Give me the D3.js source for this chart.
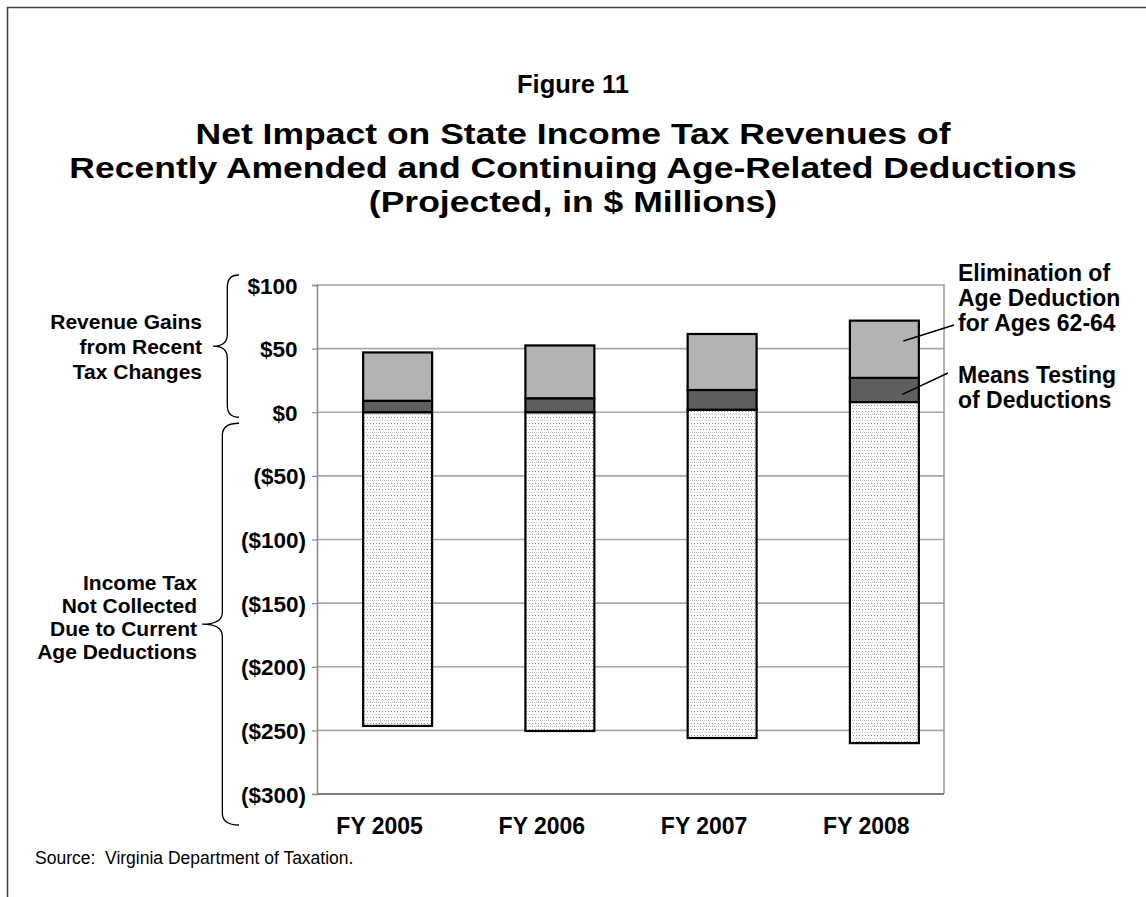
<!DOCTYPE html>
<html>
<head>
<meta charset="utf-8">
<script src="https://cdn.jsdelivr.net/npm/d3@7"></script>
<style>
  html, body { margin: 0; padding: 0; background: #fff; }
  svg text { font-family: "Liberation Sans", Arial, Helvetica, sans-serif; fill: #000; }
</style>
</head>
<body>
<svg id="chart" width="1146" height="897"></svg>
<script>
// Fiscal years shown on the category axis
const years = ["FY 2005", "FY 2006", "FY 2007", "FY 2008"];
// Income tax not collected due to current age deductions: lower and upper ends of the segment ($ millions)
const deductionLow  = [-246.5, -250.5, -256, -260];
const deductionHigh = [0, 0, 2, 8];
// Revenue gains from means testing of deductions ($ millions)
const meansTesting  = [9, 11, 15.5, 19];
// Revenue gains from elimination of age deduction for ages 62-64 ($ millions)
const ageElimination = [38, 41.5, 44, 45];
// Value axis ticks and their labels
const tickValues = [100, 50, 0, -50, -100, -150, -200, -250, -300];
const tickLabels = ["$100", "$50", "$0", "($50)", "($100)", "($150)", "($200)", "($250)", "($300)"];

const svg = d3.select("#chart");
const font = '"Liberation Sans", Arial, Helvetica, sans-serif';

// dotted fill for the deduction segments
const defs = svg.append("defs");
const pat = defs.append("pattern").attr("id", "dots")
  .attr("patternUnits", "userSpaceOnUse").attr("width", 6).attr("height", 6);
pat.append("rect").attr("width", 6).attr("height", 6).attr("fill", "#ffffff");
[[0,0],[2,0],[4,0]].forEach(([x,y]) => pat.append("rect").attr("x", x).attr("y", y).attr("width", 1).attr("height", 1).attr("fill", "#c4c4c4"));
[[1,3],[4,3]].forEach(([x,y]) => pat.append("rect").attr("x", x).attr("y", y).attr("width", 1).attr("height", 1).attr("fill", "#8c8c8c"));

// outer frame (top and left edges)
svg.append("path").attr("d", "M7.5,897 L7.5,7.5 L1146,7.5")
  .attr("fill", "none").attr("stroke", "#444").attr("stroke-width", 1.6);

// titles
svg.append("text").attr("x", 573).attr("y", 93).attr("text-anchor", "middle")
  .attr("font-weight", "bold").attr("font-size", 25.5).text("Figure 11");
const titleLines = [
  "Net Impact on State Income Tax Revenues of",
  "Recently Amended and Continuing Age-Related Deductions",
  "(Projected, in $ Millions)"
];
// title set in a slightly widened bold face
svg.append("g").selectAll("text").data(titleLines).join("text")
  .attr("transform", (d, i) => `translate(573,${144 + i * 34}) scale(1.168,1)`)
  .attr("text-anchor", "middle").attr("font-weight", "bold").attr("font-size", 30.4)
  .text(d => d);

// plot area
const plot = { left: 317, right: 944, top: 285, bottom: 794 };
const y = d3.scaleLinear().domain([-300, 100]).range([plot.bottom, plot.top]);
const x = d3.scaleBand().domain(years).range([316.5, 965.5])
  .paddingInner(0.575).paddingOuter(0.2875);

// horizontal gridlines
svg.append("g").selectAll("line").data(tickValues.filter(v => v > -300 && v < 100)).join("line")
  .attr("x1", plot.left).attr("x2", plot.right)
  .attr("y1", d => y(d)).attr("y2", d => y(d))
  .attr("stroke", "#a8a8a8").attr("stroke-width", 1.6);

// plot frame
svg.append("path")
  .attr("d", `M${plot.left},${plot.top} L${plot.right},${plot.top} L${plot.right},${plot.bottom}`)
  .attr("fill", "none").attr("stroke", "#a0a0a0").attr("stroke-width", 1.6);

// value axis
const yAxis = d3.axisLeft(y).tickValues(tickValues).tickSize(5).tickPadding(6)
  .tickFormat((d, i) => tickLabels[i]);
const ya = svg.append("g").attr("transform", `translate(${plot.left},0)`).call(yAxis);
ya.select(".domain").attr("stroke", "#8a8a8a").attr("stroke-width", 1.6);
ya.selectAll(".tick line").attr("stroke", "#8a8a8a").attr("stroke-width", 1.2);
ya.selectAll(".tick text")
  .attr("font-family", font).attr("font-weight", "bold").attr("font-size", 22.5)
  .attr("dy", "0.36em")
  .attr("dx", d => d >= 0 ? -8.5 : 0);

// category axis baseline
svg.append("line").attr("x1", plot.left).attr("x2", plot.right)
  .attr("y1", y(-300)).attr("y2", y(-300))
  .attr("stroke", "#808080").attr("stroke-width", 2);

// category labels
svg.append("g").selectAll("text").data(years).join("text")
  .attr("x", d => x(d) + x.bandwidth() / 2 - 18)
  .attr("y", y(-300) + 40)
  .attr("text-anchor", "middle").attr("font-weight", "bold").attr("font-size", 23)
  .text(d => d);

// stacked segments
const segments = [];
years.forEach((yr, i) => {
  segments.push({ yr, lo: deductionLow[i], hi: deductionHigh[i], fill: "url(#dots)" });
  const mtBase = deductionHigh[i];
  segments.push({ yr, lo: mtBase, hi: mtBase + meansTesting[i], fill: "#5f5f5f" });
  const aeBase = mtBase + meansTesting[i];
  segments.push({ yr, lo: aeBase, hi: aeBase + ageElimination[i], fill: "#b3b3b3" });
});
svg.append("g").selectAll("rect").data(segments).join("rect")
  .attr("x", d => x(d.yr))
  .attr("width", x.bandwidth())
  .attr("y", d => y(d.hi))
  .attr("height", d => y(d.lo) - y(d.hi))
  .attr("fill", d => d.fill)
  .attr("stroke", "#000").attr("stroke-width", 2.2);

// series annotations on the right
const lastYr = years[years.length - 1];
const bx = x(lastYr) + x.bandwidth() / 2;
const rightNotes = [
  { lines: ["Elimination of", "Age Deduction", "for Ages 62-64"], y0: 281, from: [bx + 19, y(56)], to: [954, 325] },
  { lines: ["Means Testing", "of Deductions"], y0: 383, from: [bx + 18, y(14)], to: [948, 373] }
];
rightNotes.forEach(n => {
  svg.append("g").selectAll("text").data(n.lines).join("text")
    .attr("x", 958).attr("y", (d, i) => n.y0 + i * 25)
    .attr("font-weight", "bold").attr("font-size", 23).text(d => d);
  svg.append("line").attr("x1", n.from[0]).attr("y1", n.from[1])
    .attr("x2", n.to[0]).attr("y2", n.to[1])
    .attr("stroke", "#000").attr("stroke-width", 1.5);
});

// curly braces grouping the value ranges
function bracePath(xTip, xEnd, yTop, yBot) {
  const xv = xTip + (xEnd - xTip) * 0.55;
  const yMid = (yTop + yBot) / 2;
  const r = 12;
  return `M${xEnd},${yTop} Q${xv},${yTop} ${xv},${yTop + r} L${xv},${yMid - r} ` +
         `Q${xv},${yMid} ${xTip},${yMid} Q${xv},${yMid} ${xv},${yMid + r} ` +
         `L${xv},${yBot - r} Q${xv},${yBot} ${xEnd},${yBot}`;
}
svg.append("path").attr("d", bracePath(213, 239, y(100) - 10, y(0) + 5))
  .attr("fill", "none").attr("stroke", "#000").attr("stroke-width", 1.3);
svg.append("path").attr("d", bracePath(202, 239, y(0) + 11, y(-300) + 31))
  .attr("fill", "none").attr("stroke", "#000").attr("stroke-width", 1.3);

// brace labels
const gainLines = ["Revenue Gains", "from Recent", "Tax Changes"];
svg.append("g").selectAll("text").data(gainLines).join("text")
  .attr("x", 202).attr("y", (d, i) => 329 + i * 25)
  .attr("text-anchor", "end").attr("font-weight", "bold").attr("font-size", 21).text(d => d);
const lossLines = ["Income Tax", "Not Collected", "Due to Current", "Age Deductions"];
svg.append("g").selectAll("text").data(lossLines).join("text")
  .attr("x", 197).attr("y", (d, i) => 590 + i * 23)
  .attr("text-anchor", "end").attr("font-weight", "bold").attr("font-size", 21).text(d => d);

// source note
svg.append("text").attr("x", 35).attr("y", 864)
  .attr("font-size", 17.5).text("Source:  Virginia Department of Taxation.")
  .attr("xml:space", "preserve").style("white-space", "pre");
</script>
</body>
</html>
